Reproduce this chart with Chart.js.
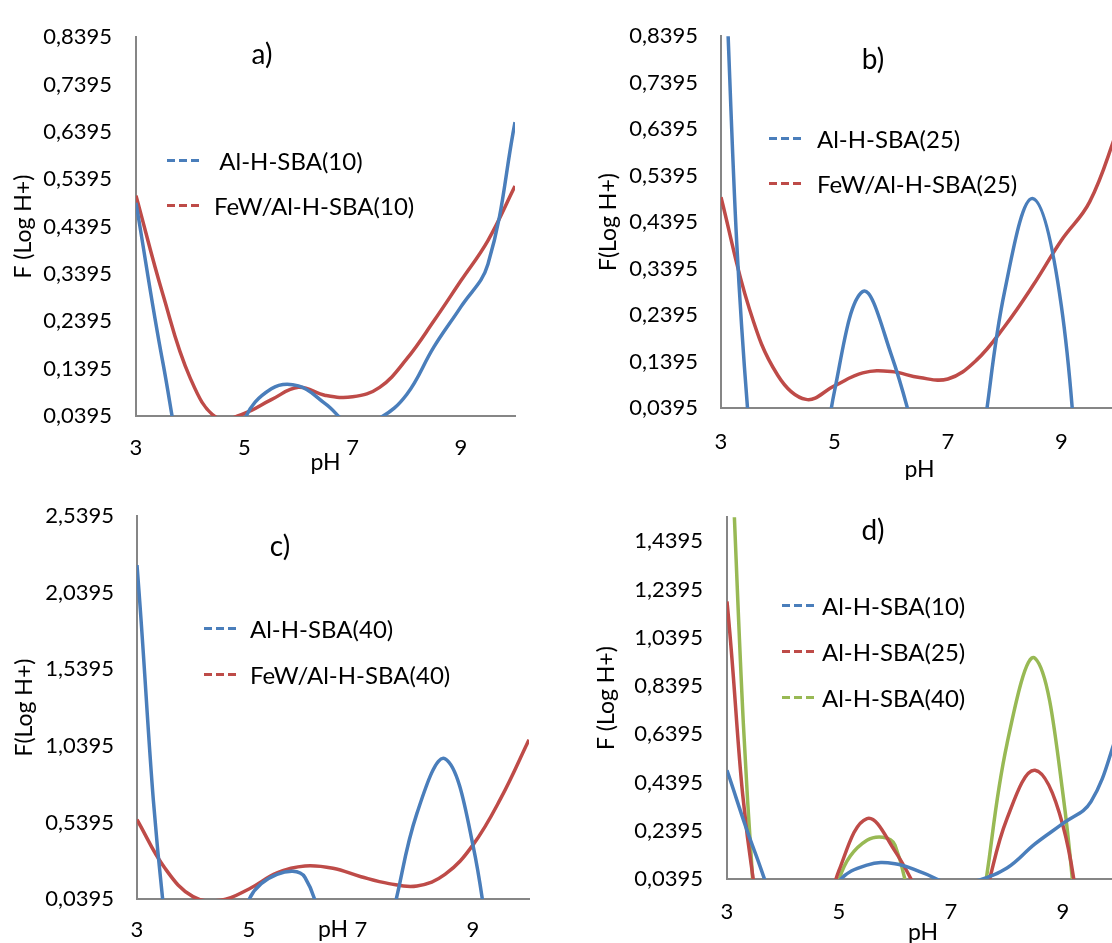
<!DOCTYPE html>
<html>
<head>
<meta charset="utf-8">
<title>F (Log H+) vs pH</title>
<script src="https://cdn.jsdelivr.net/npm/chart.js@4.4.1/dist/chart.umd.min.js"></script>
<style>
  body { margin: 0; background: #fff; font-family: Lato, "Open Sans", sans-serif; color: #000; }
  #page { position: relative; width: 1112px; height: 943px; overflow: hidden; }
  canvas { position: absolute; }
  .tag { position: absolute; font-size: 28px; line-height: 28px; transform: translate(-50%, -50%); }
  .legend { position: absolute; font-size: 24px; }
  .legend .row { display: flex; align-items: center; white-space: pre; }
  .legend .swatch { width: 32px; height: 3px; flex: none; }
</style>
</head>
<body>
<div id="page">
  <canvas id="chartA" width="556" height="480" style="left:0;top:0"></canvas>
  <canvas id="chartB" width="600" height="480" style="left:556px;top:0"></canvas>
  <canvas id="chartC" width="556" height="463" style="left:0;top:480px"></canvas>
  <canvas id="chartD" width="600" height="463" style="left:556px;top:480px"></canvas>
</div>
<script>
// pH values where the curves were read
const phValues = [3, 3.5, 4, 4.5, 5, 5.5, 6, 6.5, 7, 7.5, 8, 8.5, 9, 9.5, 10];

// F (Log H+) series, values below 0,0395 fall under the axis and are cut off
const alSba10    = [0.49, 0.15, -0.12, -0.2, 0.03, 0.097, 0.103, 0.065, 0.02, 0.035, 0.085, 0.185, 0.27, 0.36, 0.66];
const fewAlSba10 = [0.505, 0.295, 0.12, 0.035, 0.045, 0.074, 0.1, 0.083, 0.08, 0.1, 0.16, 0.24, 0.325, 0.41, 0.525];
const alSba25    = [1.19, -0.01, -0.3, -0.3, 0.075, 0.29, 0.155, -0.06, -0.3, -0.1, 0.29, 0.49, 0.26, -0.37, -0.6];
const fewAlSba25 = [0.493, 0.253, 0.11, 0.058, 0.087, 0.115, 0.118, 0.105, 0.102, 0.142, 0.215, 0.303, 0.4, 0.483, 0.64];
const alSba40    = [2.22, -0.1, -1.0, -0.6, 0.035, 0.2, 0.18, -0.4, -0.6, -0.14, 0.6, 0.955, 0.39, -0.8, -1.5];
const fewAlSba40 = [0.558, 0.24, 0.055, 0.032, 0.105, 0.21, 0.255, 0.24, 0.185, 0.14, 0.125, 0.2, 0.393, 0.7, 1.08];

// axis ticks
const xTickValues = [3, 5, 7, 9];
const yTicksAB = [0.0395, 0.1395, 0.2395, 0.3395, 0.4395, 0.5395, 0.6395, 0.7395, 0.8395];
const yTicksC  = [0.0395, 0.5395, 1.0395, 1.5395, 2.0395, 2.5395];
const yTicksD  = [0.0395, 0.2395, 0.4395, 0.6395, 0.8395, 1.0395, 1.2395, 1.4395];

const BLUE = '#4A7EBB', RED = '#BE4B48', GREEN = '#98B954';
const TICK_SIZE = 22, TITLE_SIZE = 23;

const panels = [
  { id: 'chartA', tag: 'a)', tagX: 262, tagY: 53,
    area: { left: 136, right: 515, top: 22, bottom: 416 }, yMax: 0.8395, yTicks: yTicksAB,
    yTitle: 'F (Log H+)', yTitleX: 24, xTickCenter: 448, xTitleY: 463, yTickPad: 24,
    legend: { x: 167, y: 160, rowH: 45, gap: 15 },
    series: [[' Al-H-SBA(10)', alSba10, BLUE], ['FeW/Al-H-SBA(10)', fewAlSba10, RED]] },
  { id: 'chartB', tag: 'b)', tagX: 873, tagY: 58,
    area: { left: 165, right: 562, top: 31, bottom: 408 }, yMax: 0.8395, yTicks: yTicksAB,
    yTitle: 'F(Log H+)', yTitleX: 53, xTickCenter: 442, xTitleY: 470, yTickPad: 23,
    legend: { x: 769, y: 138, rowH: 45, gap: 16 },
    series: [['Al-H-SBA(25)', alSba25, BLUE], ['FeW/Al-H-SBA(25)', fewAlSba25, RED]] },
  { id: 'chartC', tag: 'c)', tagX: 280, tagY: 545,
    area: { left: 137, right: 529, top: 22, bottom: 419 }, yMax: 2.5395, yTicks: yTicksC,
    yTitle: 'F(Log H+)', yTitleX: 25, xTickCenter: 450, xTitleY: 450, yTickPad: 23,
    legend: { x: 204, y: 628, rowH: 46, gap: 14 },
    series: [['Al-H-SBA(40)', alSba40, BLUE], ['FeW/Al-H-SBA(40)', fewAlSba40, RED]] },
  { id: 'chartD', tag: 'd)', tagX: 873, tagY: 529,
    area: { left: 171, right: 563, top: 22, bottom: 399 }, yMax: 1.5395, yTicks: yTicksD,
    yTitle: 'F (Log H+)', yTitleX: 51, xTickCenter: 432, xTitleY: 453, yTickPad: 24,
    legend: { x: 782, y: 605, rowH: 46, gap: 8 },
    series: [['Al-H-SBA(10)', alSba10, BLUE], ['Al-H-SBA(25)', alSba25, RED], ['Al-H-SBA(40)', alSba40, GREEN]] }
];

Chart.defaults.font.family = 'Lato';
Chart.defaults.color = '#000';

function toPoints(values) {
  return phValues.map((x, i) => ({ x: x, y: values[i] }));
}

function makeLegend(p, chart) {
  const box = document.createElement('div');
  box.className = 'legend';
  box.style.left = p.legend.x + 'px';
  box.style.top = (p.legend.y - p.legend.rowH / 2) + 'px';
  chart.data.datasets.forEach(ds => {
    const row = document.createElement('div');
    row.className = 'row';
    row.style.height = p.legend.rowH + 'px';
    const sw = document.createElement('span');
    sw.className = 'swatch';
    sw.style.marginRight = p.legend.gap + 'px';
    sw.style.background = 'repeating-linear-gradient(to right, ' + ds.borderColor + ' 0 8px, transparent 8px 12px)';
    const txt = document.createElement('span');
    txt.textContent = ds.label;
    row.appendChild(sw);
    row.appendChild(txt);
    box.appendChild(row);
  });
  document.getElementById('page').appendChild(box);
}

panels.forEach(p => {
  const canvas = document.getElementById(p.id);
  const w = canvas.width, h = canvas.height;
  const tickHalf = TICK_SIZE * 1.2 / 2, titleHalf = TITLE_SIZE * 1.2 / 2;

  const chart = new Chart(canvas.getContext('2d'), {
    type: 'line',
    data: {
      datasets: p.series.map(s => ({
        label: s[0],
        data: toPoints(s[1]),
        borderColor: s[2],
        backgroundColor: s[2],
        borderWidth: 3.5,
        pointRadius: 0,
        tension: 0.4,
        fill: false
      }))
    },
    options: {
      responsive: false,
      animation: false,
      layout: { padding: { left: 0, top: p.area.top, right: w - p.area.right, bottom: 0 } },
      elements: { line: { capBezierPoints: false } },
      plugins: { legend: { display: false }, tooltip: { enabled: false } },
      scales: {
        x: {
          type: 'linear', min: 3, max: 10,
          grid: { display: false, drawTicks: false },
          border: { color: '#868686', width: 2 },
          ticks: { padding: p.xTickCenter - p.area.bottom - tickHalf, maxRotation: 0, autoSkip: false,
                   font: { size: TICK_SIZE }, callback: v => String(v) },
          title: { display: true, text: 'pH', font: { size: TITLE_SIZE }, padding: { top: 0, bottom: h - p.xTitleY - titleHalf } },
          afterBuildTicks: s => { s.ticks = xTickValues.map(v => ({ value: v })); },
          afterFit: s => { s.height = h - p.area.bottom; }
        },
        y: {
          min: 0.0395, max: p.yMax,
          grid: { display: false, drawTicks: false },
          border: { color: '#868686', width: 2 },
          ticks: { padding: p.yTickPad, autoSkip: false, font: { size: TICK_SIZE },
                   callback: v => v.toFixed(4).replace('.', ',') },
          title: { display: true, text: p.yTitle, font: { size: TITLE_SIZE }, padding: { top: p.yTitleX - titleHalf, bottom: 0 } },
          afterBuildTicks: s => { s.ticks = p.yTicks.map(v => ({ value: v })); },
          afterFit: s => { s.width = p.area.left; }
        }
      }
    }
  });

  makeLegend(p, chart);

  const tag = document.createElement('div');
  tag.className = 'tag';
  tag.textContent = p.tag;
  tag.style.left = p.tagX + 'px';
  tag.style.top = p.tagY + 'px';
  document.getElementById('page').appendChild(tag);
});
</script>
</body>
</html>
